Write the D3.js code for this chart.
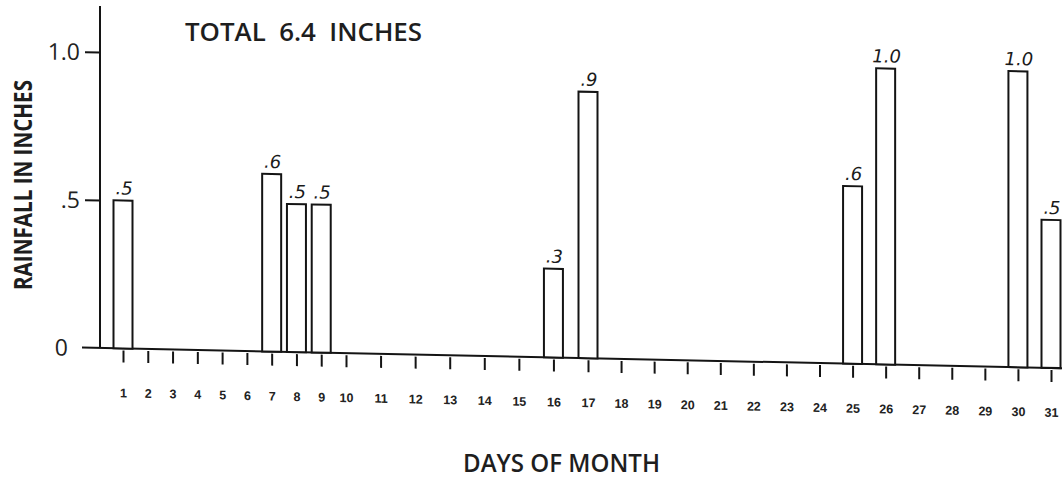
<!DOCTYPE html>
<html>
<head>
<meta charset="utf-8">
<script src="https://cdn.jsdelivr.net/npm/d3@7"></script>
<style>
  body { margin: 0; background: #fff; }
  svg { display: block; }
</style>
</head>
<body>
<div id="chart"></div>
<script>
// rainfall per day (inches)
const days = [1, 7, 8, 9, 16, 17, 25, 26, 30, 31];
const rainfall = [0.5, 0.6, 0.5, 0.5, 0.3, 0.9, 0.6, 1.0, 1.0, 0.5];
const barLabels = [".5", ".6", ".5", ".5", ".3", ".9", ".6", "1.0", "1.0", ".5"];

const dayTicks = [1, 2, 3, 4, 5, 6, 7, 8, 9, 10, 11, 12, 13, 14, 15, 16,
                  17, 18, 19, 20, 21, 22, 23, 24, 25, 26, 27, 28, 29, 30, 31];
const yTicks = [0, 0.5, 1.0];
const yTickLabels = ["0", ".5", "1.0"];

const W = 1062, H = 481;
const left = 100;
const ink = "#141414";

const svg = d3.select("#chart").append("svg")
    .attr("width", W)
    .attr("height", H);

// the scanned page is slightly sheared, so the plot is skewed a little
const g = svg.append("g")
    .attr("transform", "translate(" + left + ",0) skewY(1.2)");

// hand drawn spacing: narrower for the first days
const x = d3.scaleLinear()
    .domain([1, 10, 17, 31])
    .range([23, 246, 488, 951]);

const y = d3.scaleLinear()
    .domain([0, 1])
    .range([348, 52]);

const barW = 19;

// y axis
const yAxis = g.append("g")
    .call(d3.axisLeft(y)
        .tickValues(yTicks)
        .tickSize(15)
        .tickPadding(5)
        .tickFormat((d, i) => yTickLabels[i]));
yAxis.select(".domain").remove();
yAxis.selectAll("line").attr("stroke", ink).attr("stroke-width", 2);
yAxis.selectAll("text")
    .style("font-family", "'Open Sans', sans-serif")
    .style("font-size", "23px")
    .attr("fill", "#222")
    .attr("dy", "0.35em")
    .attr("dx", d => d === 0 ? -12 : 0);
yAxis.selectAll(".tick").filter(d => d === 0).select("line").remove();

g.append("line")
    .attr("x1", 0).attr("x2", 0)
    .attr("y1", y(0)).attr("y2", 6)
    .attr("stroke", ink).attr("stroke-width", 2);

// baseline
g.append("line")
    .attr("x1", -18).attr("x2", W - left)
    .attr("y1", y(0)).attr("y2", y(0))
    .attr("stroke", ink).attr("stroke-width", 2);

// x axis ticks
const xAxis = g.append("g")
    .attr("transform", "translate(0," + (y(0) + 2) + ")")
    .call(d3.axisBottom(x)
        .tickValues(dayTicks)
        .tickSize(12)
        .tickPadding(26)
        .tickFormat(d3.format("d")));
xAxis.select(".domain").remove();
xAxis.selectAll("line").attr("stroke", ink).attr("stroke-width", 2);
xAxis.selectAll("text")
    .style("font-family", "'Liberation Sans', Arial, sans-serif")
    .style("font-size", "12.5px")
    .style("font-weight", "bold")
    .attr("fill", "#222");

// bars
const data = days.map((d, i) => ({ day: d, value: rainfall[i], label: barLabels[i] }));

g.selectAll("rect.bar")
    .data(data)
    .enter().append("rect")
    .attr("class", "bar")
    .attr("x", d => x(d.day) - barW / 2)
    .attr("y", d => y(d.value))
    .attr("width", barW)
    .attr("height", d => y(0) - y(d.value))
    .attr("fill", "#fff")
    .attr("stroke", ink)
    .attr("stroke-width", 2);

// hand written values
g.selectAll("text.val")
    .data(data)
    .enter().append("text")
    .attr("class", "val")
    .attr("x", d => x(d.day) + 1)
    .attr("y", d => y(d.value) - 6)
    .attr("text-anchor", "middle")
    .style("font-family", "'DejaVu Sans', sans-serif")
    .style("font-style", "italic")
    .style("font-size", "18px")
    .attr("fill", "#1a1a1a")
    .text(d => d.label);

// titles
svg.append("text")
    .attr("x", 185).attr("y", 41)
    .attr("textLength", 237)
    .attr("lengthAdjust", "spacingAndGlyphs")
    .style("white-space", "pre")
    .style("font-family", "'Open Sans', sans-serif")
    .style("font-weight", "600")
    .style("font-size", "25px")
    .attr("fill", "#1e1e1e")
    .text("TOTAL  6.4  INCHES");

svg.append("text")
    .attr("transform", "translate(32,290) rotate(-90)")
    .attr("textLength", 210)
    .attr("lengthAdjust", "spacingAndGlyphs")
    .style("font-family", "'Open Sans', sans-serif")
    .style("font-weight", "700")
    .style("font-size", "25px")
    .attr("fill", "#1e1e1e")
    .text("RAINFALL IN INCHES");

svg.append("text")
    .attr("x", 463).attr("y", 472)
    .attr("textLength", 197)
    .attr("lengthAdjust", "spacingAndGlyphs")
    .style("font-family", "'Open Sans', sans-serif")
    .style("font-weight", "600")
    .style("font-size", "25px")
    .attr("fill", "#1e1e1e")
    .text("DAYS OF MONTH");
</script>
</body>
</html>
